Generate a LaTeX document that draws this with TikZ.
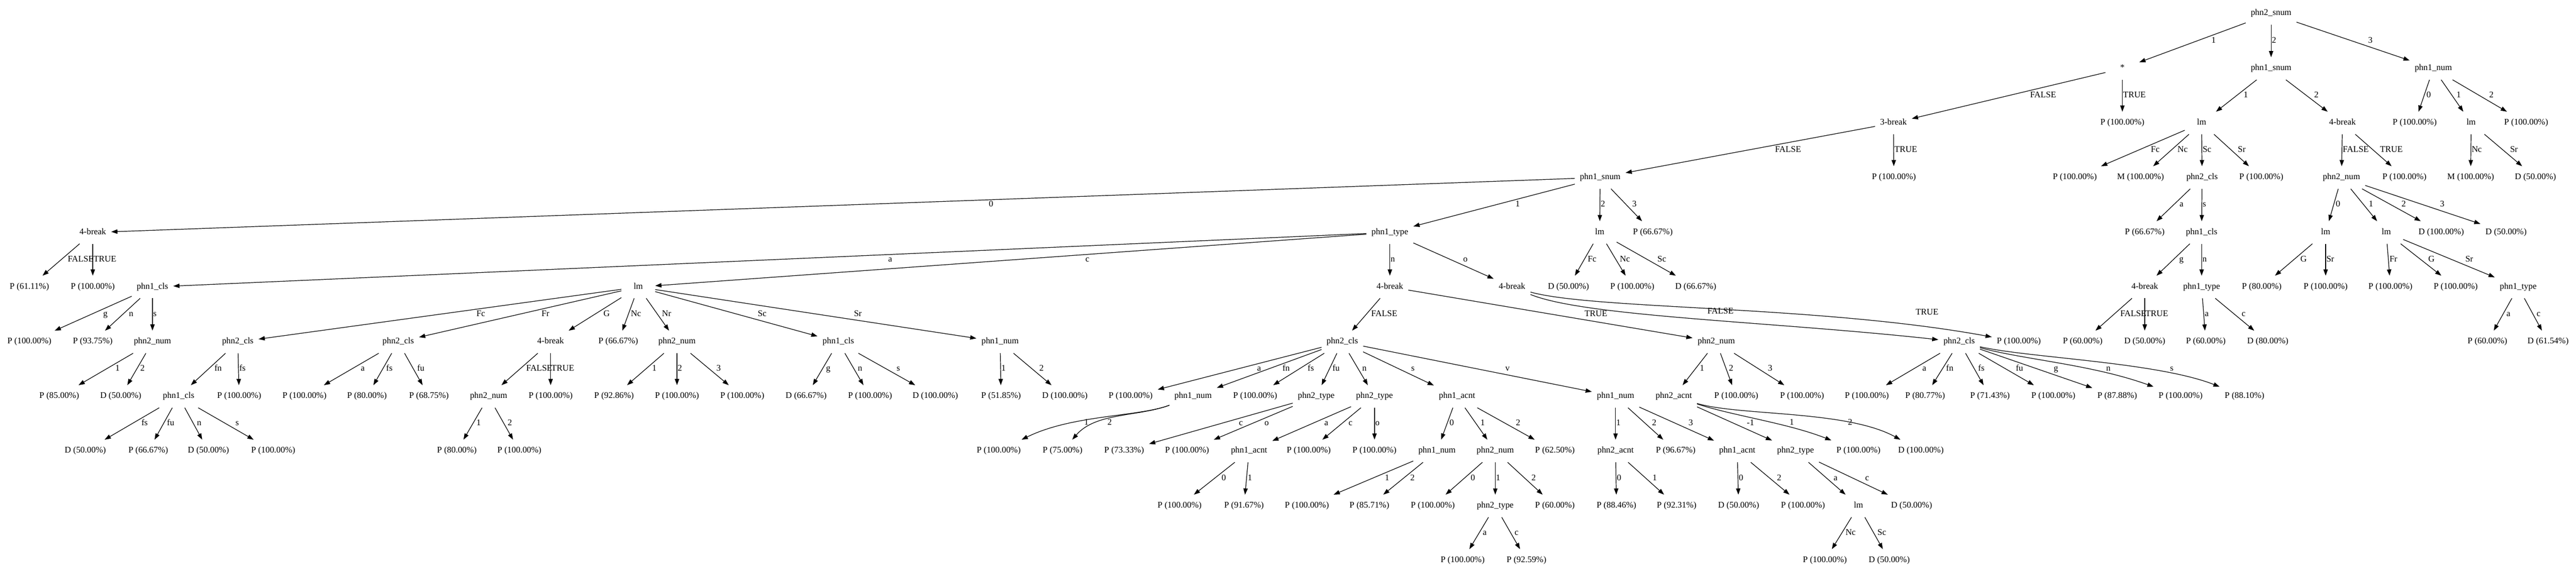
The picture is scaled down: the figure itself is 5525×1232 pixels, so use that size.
\documentclass[tikz,border=0pt]{standalone}
\usepackage{fontspec}
\setmainfont{Liberation Serif}
\usetikzlibrary{arrows.meta, calc}

% labelled edge: line from parent to child, label just right of the line
\newcommand{\treeedge}[3]{%
  \draw[link] (#1) -- (#2);
  \path let \p1=(#1), \p2=(#2), \n1={sign(\x2-\x1)} in
    node[elbl] (l#2) at ({\x1+(0.5+0.094*(\n1))*(\x2-\x1)}, {0.5*(\y1+\y2)}) {#3};
}

\begin{document}
\begin{tikzpicture}[x=0.75pt, y=-0.75pt,
        tnode/.style={inner xsep=8pt, inner ysep=0pt, minimum width=54pt, minimum height=36pt, text height=9pt, text depth=3pt, font=\fontsize{14}{17}\selectfont},
        elbl/.style={anchor=west, inner xsep=1pt, inner ysep=0pt, text height=9pt, text depth=3pt, font=\fontsize{14}{17}\selectfont},
        link/.style={-{Triangle[length=10pt, width=7pt]}, line width=1pt}
    ]
        \useasboundingbox (0,0) rectangle (5525,1232);

        % Rank 0 and 1
        \node[tnode] (r0n1) at (4871,29) {phn2\_snum};
        \node[tnode] (r1n1) at (4552,147) {*};
        \node[tnode] (r1n2) at (4871,147) {phn1\_snum};
        \node[tnode] (r1n3) at (5219,147) {phn1\_num};

        % Rank 2
        \node[tnode] (r2n1) at (4061,264) {3-break};
        \node[tnode] (r2n2) at (4552,264) {P (100.00\%)};
        \node[tnode] (r2n3) at (4722,264) {lm};
        \node[tnode] (r2n4) at (5024,264) {4-break};
        \node[tnode] (r2n5) at (5179,264) {P (100.00\%)};
        \node[tnode] (r2n6) at (5300,264) {lm};
        \node[tnode] (r2n7) at (5418,264) {P (100.00\%)};

        % Rank 3
        \node[tnode] (r3n1) at (3432,381) {phn1\_snum};
        \node[tnode] (r3n2) at (4062,381) {P (100.00\%)};
        \node[tnode] (r3n3) at (4450,381) {P (100.00\%)};
        \node[tnode] (r3n4) at (4591,381) {M (100.00\%)};
        \node[tnode] (r3n5) at (4723,381) {phn2\_cls};
        \node[tnode] (r3n6) at (4850,381) {P (100.00\%)};
        \node[tnode] (r3n7) at (5022,381) {phn2\_num};
        \node[tnode] (r3n8) at (5157,381) {P (100.00\%)};
        \node[tnode] (r3n9) at (5299,381) {M (100.00\%)};
        \node[tnode] (r3n10) at (5438,381) {D (50.00\%)};

        % Rank 4
        \node[tnode] (r4n1) at (199,499) {4-break};
        \node[tnode] (r4n2) at (2981,499) {phn1\_type};
        \node[tnode] (r4n3) at (3431,499) {lm};
        \node[tnode] (r4n4) at (3545,499) {P (66.67\%)};
        \node[tnode] (r4n5) at (4600,499) {P (66.67\%)};
        \node[tnode] (r4n6) at (4722,499) {phn1\_cls};
        \node[tnode] (r4n7) at (4988,499) {lm};
        \node[tnode] (r4n8) at (5118,499) {lm};
        \node[tnode] (r4n9) at (5236,499) {D (100.00\%)};
        \node[tnode] (r4n10) at (5375,499) {D (50.00\%)};

        % Rank 5
        \node[tnode] (r5n1) at (63,616) {P (61.11\%)};
        \node[tnode] (r5n2) at (199,616) {P (100.00\%)};
        \node[tnode] (r5n3) at (327,616) {phn1\_cls};
        \node[tnode] (r5n4) at (1369,616) {lm};
        \node[tnode] (r5n5) at (2981,616) {4-break};
        \node[tnode] (r5n6) at (3243,616) {4-break};
        \node[tnode] (r5n7) at (3364,616) {D (50.00\%)};
        \node[tnode] (r5n8) at (3501,616) {P (100.00\%)};
        \node[tnode] (r5n9) at (3637,616) {D (66.67\%)};
        \node[tnode] (r5n10) at (4600,616) {4-break};
        \node[tnode] (r5n11) at (4722,616) {phn1\_type};
        \node[tnode] (r5n12) at (4851,616) {P (80.00\%)};
        \node[tnode] (r5n13) at (4988,616) {P (100.00\%)};
        \node[tnode] (r5n14) at (5127,616) {P (100.00\%)};
        \node[tnode] (r5n15) at (5267,616) {P (100.00\%)};
        \node[tnode] (r5n16) at (5401,616) {phn1\_type};

        % Rank 6
        \node[tnode] (r6n1) at (63,734) {P (100.00\%)};
        \node[tnode] (r6n2) at (199,734) {P (93.75\%)};
        \node[tnode] (r6n3) at (327,734) {phn2\_num};
        \node[tnode] (r6n4) at (510,734) {phn2\_cls};
        \node[tnode] (r6n5) at (854,734) {phn2\_cls};
        \node[tnode] (r6n6) at (1181,734) {4-break};
        \node[tnode] (r6n7) at (1326,734) {P (66.67\%)};
        \node[tnode] (r6n8) at (1452,734) {phn2\_num};
        \node[tnode] (r6n9) at (1798,734) {phn1\_cls};
        \node[tnode] (r6n10) at (2145,734) {phn1\_num};
        \node[tnode] (r6n11) at (2879,734) {phn2\_cls};
        \node[tnode] (r6n12) at (3681,734) {phn2\_num};
        \node[tnode] (r6n13) at (4202,734) {phn2\_cls};
        \node[tnode] (r6n14) at (4330,734) {P (100.00\%)};
        \node[tnode] (r6n15) at (4467,734) {P (60.00\%)};
        \node[tnode] (r6n16) at (4600,734) {D (50.00\%)};
        \node[tnode] (r6n17) at (4731,734) {P (60.00\%)};
        \node[tnode] (r6n18) at (4864,734) {D (80.00\%)};
        \node[tnode] (r6n19) at (5335,734) {P (60.00\%)};
        \node[tnode] (r6n20) at (5465,734) {D (61.54\%)};

        % Rank 7
        \node[tnode] (r7n1) at (127,851) {P (85.00\%)};
        \node[tnode] (r7n2) at (259,851) {D (50.00\%)};
        \node[tnode] (r7n3) at (383,851) {phn1\_cls};
        \node[tnode] (r7n4) at (513,851) {P (100.00\%)};
        \node[tnode] (r7n5) at (653,851) {P (100.00\%)};
        \node[tnode] (r7n6) at (787,851) {P (80.00\%)};
        \node[tnode] (r7n7) at (920,851) {P (68.75\%)};
        \node[tnode] (r7n8) at (1048,851) {phn2\_num};
        \node[tnode] (r7n9) at (1181,851) {P (100.00\%)};
        \node[tnode] (r7n10) at (1317,851) {P (92.86\%)};
        \node[tnode] (r7n11) at (1452,851) {P (100.00\%)};
        \node[tnode] (r7n12) at (1592,851) {P (100.00\%)};
        \node[tnode] (r7n13) at (1729,851) {D (66.67\%)};
        \node[tnode] (r7n14) at (1866,851) {P (100.00\%)};
        \node[tnode] (r7n15) at (2006,851) {D (100.00\%)};
        \node[tnode] (r7n16) at (2147,851) {P (51.85\%)};
        \node[tnode] (r7n17) at (2284,851) {D (100.00\%)};
        \node[tnode] (r7n18) at (2425,851) {P (100.00\%)};
        \node[tnode] (r7n19) at (2559,851) {phn1\_num};
        \node[tnode] (r7n20) at (2692,851) {P (100.00\%)};
        \node[tnode] (r7n21) at (2823,851) {phn2\_type};
        \node[tnode] (r7n22) at (2948,851) {phn2\_type};
        \node[tnode] (r7n23) at (3125,851) {phn1\_acnt};
        \node[tnode] (r7n24) at (3465,851) {phn1\_num};
        \node[tnode] (r7n25) at (3590,851) {phn2\_acnt};
        \node[tnode] (r7n26) at (3724,851) {P (100.00\%)};
        \node[tnode] (r7n27) at (3865,851) {P (100.00\%)};
        \node[tnode] (r7n28) at (4004,851) {P (100.00\%)};
        \node[tnode] (r7n29) at (4129,851) {P (80.77\%)};
        \node[tnode] (r7n30) at (4268,851) {P (71.43\%)};
        \node[tnode] (r7n31) at (4404,851) {P (100.00\%)};
        \node[tnode] (r7n32) at (4541,851) {P (87.88\%)};
        \node[tnode] (r7n33) at (4677,851) {P (100.00\%)};
        \node[tnode] (r7n34) at (4814,851) {P (88.10\%)};

        % Rank 8
        \node[tnode] (r8n1) at (183,968) {D (50.00\%)};
        \node[tnode] (r8n2) at (318,968) {P (66.67\%)};
        \node[tnode] (r8n3) at (447,968) {D (50.00\%)};
        \node[tnode] (r8n4) at (586,968) {P (100.00\%)};
        \node[tnode] (r8n5) at (980,968) {P (80.00\%)};
        \node[tnode] (r8n6) at (1114,968) {P (100.00\%)};
        \node[tnode] (r8n7) at (2142,968) {P (100.00\%)};
        \node[tnode] (r8n8) at (2279,968) {P (75.00\%)};
        \node[tnode] (r8n9) at (2411,968) {P (73.33\%)};
        \node[tnode] (r8n10) at (2546,968) {P (100.00\%)};
        \node[tnode] (r8n11) at (2679,968) {phn1\_acnt};
        \node[tnode] (r8n12) at (2807,968) {P (100.00\%)};
        \node[tnode] (r8n13) at (2948,968) {P (100.00\%)};
        \node[tnode] (r8n14) at (3082,968) {phn1\_num};
        \node[tnode] (r8n15) at (3207,968) {phn2\_num};
        \node[tnode] (r8n16) at (3335,968) {P (62.50\%)};
        \node[tnode] (r8n17) at (3465,968) {phn2\_acnt};
        \node[tnode] (r8n18) at (3594,968) {P (96.67\%)};
        \node[tnode] (r8n19) at (3726,968) {phn1\_acnt};
        \node[tnode] (r8n20) at (3851,968) {phn2\_type};
        \node[tnode] (r8n21) at (3986,968) {P (100.00\%)};
        \node[tnode] (r8n22) at (4120,968) {D (100.00\%)};

        % Rank 9
        \node[tnode] (r9n1) at (2530,1086) {P (100.00\%)};
        \node[tnode] (r9n2) at (2668,1086) {P (91.67\%)};
        \node[tnode] (r9n3) at (2803,1086) {P (100.00\%)};
        \node[tnode] (r9n4) at (2937,1086) {P (85.71\%)};
        \node[tnode] (r9n5) at (3073,1086) {P (100.00\%)};
        \node[tnode] (r9n6) at (3207,1086) {phn2\_type};
        \node[tnode] (r9n7) at (3335,1086) {P (60.00\%)};
        \node[tnode] (r9n8) at (3467,1086) {P (88.46\%)};
        \node[tnode] (r9n9) at (3596,1086) {P (92.31\%)};
        \node[tnode] (r9n10) at (3729,1086) {D (50.00\%)};
        \node[tnode] (r9n11) at (3867,1086) {P (100.00\%)};
        \node[tnode] (r9n12) at (3986,1086) {lm};
        \node[tnode] (r9n13) at (4100,1086) {D (50.00\%)};

        % Rank 10
        \node[tnode] (r10n1) at (3137,1203) {P (100.00\%)};
        \node[tnode] (r10n2) at (3274,1203) {P (92.59\%)};
        \node[tnode] (r10n3) at (3914,1203) {P (100.00\%)};
        \node[tnode] (r10n4) at (4052,1203) {D (50.00\%)};

        % Straight edges
        \treeedge{r0n1}{r1n1}{1} \treeedge{r0n1}{r1n2}{2} \treeedge{r0n1}{r1n3}{3}
        \treeedge{r1n1}{r2n1}{FALSE} \treeedge{r1n1}{r2n2}{TRUE}
        \treeedge{r1n2}{r2n3}{1} \treeedge{r1n2}{r2n4}{2}
        \treeedge{r1n3}{r2n5}{0} \treeedge{r1n3}{r2n6}{1} \treeedge{r1n3}{r2n7}{2}
        \treeedge{r2n1}{r3n1}{FALSE} \treeedge{r2n1}{r3n2}{TRUE}
        \treeedge{r2n3}{r3n3}{Fc} \treeedge{r2n3}{r3n4}{Nc} \treeedge{r2n3}{r3n5}{Sc} \treeedge{r2n3}{r3n6}{Sr}
        \treeedge{r2n4}{r3n7}{FALSE} \treeedge{r2n4}{r3n8}{TRUE}
        \treeedge{r2n6}{r3n9}{Nc} \treeedge{r2n6}{r3n10}{Sr}
        \treeedge{r3n1}{r4n1}{0} \treeedge{r3n1}{r4n2}{1} \treeedge{r3n1}{r4n3}{2} \treeedge{r3n1}{r4n4}{3}
        \treeedge{r3n5}{r4n5}{a} \treeedge{r3n5}{r4n6}{s}
        \treeedge{r3n7}{r4n7}{0} \treeedge{r3n7}{r4n8}{1} \treeedge{r3n7}{r4n9}{2} \treeedge{r3n7}{r4n10}{3}
        \treeedge{r4n1}{r5n1}{FALSE} \treeedge{r4n1}{r5n2}{TRUE}
        \treeedge{r4n2}{r5n3}{a} \treeedge{r4n2}{r5n4}{c} \treeedge{r4n2}{r5n5}{n} \treeedge{r4n2}{r5n6}{o}
        \treeedge{r4n3}{r5n7}{Fc} \treeedge{r4n3}{r5n8}{Nc} \treeedge{r4n3}{r5n9}{Sc}
        \treeedge{r4n6}{r5n10}{g} \treeedge{r4n6}{r5n11}{n}
        \treeedge{r4n7}{r5n12}{G} \treeedge{r4n7}{r5n13}{Sr}
        \treeedge{r4n8}{r5n14}{Fr} \treeedge{r4n8}{r5n15}{G} \treeedge{r4n8}{r5n16}{Sr}
        \treeedge{r5n3}{r6n1}{g} \treeedge{r5n3}{r6n2}{n} \treeedge{r5n3}{r6n3}{s}
        \treeedge{r5n4}{r6n4}{Fc} \treeedge{r5n4}{r6n5}{Fr} \treeedge{r5n4}{r6n6}{G} \treeedge{r5n4}{r6n7}{Nc}
        \treeedge{r5n4}{r6n8}{Nr} \treeedge{r5n4}{r6n9}{Sc} \treeedge{r5n4}{r6n10}{Sr}
        \treeedge{r5n5}{r6n11}{FALSE} \treeedge{r5n5}{r6n12}{TRUE}
        \treeedge{r5n10}{r6n15}{FALSE} \treeedge{r5n10}{r6n16}{TRUE}
        \treeedge{r5n11}{r6n17}{a} \treeedge{r5n11}{r6n18}{c}
        \treeedge{r5n16}{r6n19}{a} \treeedge{r5n16}{r6n20}{c}
        \treeedge{r6n3}{r7n1}{1} \treeedge{r6n3}{r7n2}{2}
        \treeedge{r6n4}{r7n3}{fn} \treeedge{r6n4}{r7n4}{fs}
        \treeedge{r6n5}{r7n5}{a} \treeedge{r6n5}{r7n6}{fs} \treeedge{r6n5}{r7n7}{fu}
        \treeedge{r6n6}{r7n8}{FALSE} \treeedge{r6n6}{r7n9}{TRUE}
        \treeedge{r6n8}{r7n10}{1} \treeedge{r6n8}{r7n11}{2} \treeedge{r6n8}{r7n12}{3}
        \treeedge{r6n9}{r7n13}{g} \treeedge{r6n9}{r7n14}{n} \treeedge{r6n9}{r7n15}{s}
        \treeedge{r6n10}{r7n16}{1} \treeedge{r6n10}{r7n17}{2}
        \treeedge{r6n11}{r7n18}{a} \treeedge{r6n11}{r7n19}{fn} \treeedge{r6n11}{r7n20}{fs} \treeedge{r6n11}{r7n21}{fu}
        \treeedge{r6n11}{r7n22}{n} \treeedge{r6n11}{r7n23}{s} \treeedge{r6n11}{r7n24}{v}
        \treeedge{r6n12}{r7n25}{1} \treeedge{r6n12}{r7n26}{2} \treeedge{r6n12}{r7n27}{3}
        \treeedge{r6n13}{r7n28}{a} \treeedge{r6n13}{r7n29}{fn} \treeedge{r6n13}{r7n30}{fs} \treeedge{r6n13}{r7n31}{fu} \treeedge{r6n13}{r7n32}{g}
        \treeedge{r7n3}{r8n1}{fs} \treeedge{r7n3}{r8n2}{fu} \treeedge{r7n3}{r8n3}{n} \treeedge{r7n3}{r8n4}{s}
        \treeedge{r7n8}{r8n5}{1} \treeedge{r7n8}{r8n6}{2}
        \treeedge{r7n21}{r8n9}{c} \treeedge{r7n21}{r8n10}{o}
        \treeedge{r7n22}{r8n11}{a} \treeedge{r7n22}{r8n12}{c} \treeedge{r7n22}{r8n13}{o}
        \treeedge{r7n23}{r8n14}{0} \treeedge{r7n23}{r8n15}{1} \treeedge{r7n23}{r8n16}{2}
        \treeedge{r7n24}{r8n17}{1} \treeedge{r7n24}{r8n18}{2} \treeedge{r7n24}{r8n19}{3}
        \treeedge{r7n25}{r8n20}{-1}
        \treeedge{r8n11}{r9n1}{0} \treeedge{r8n11}{r9n2}{1}
        \treeedge{r8n14}{r9n3}{1} \treeedge{r8n14}{r9n4}{2}
        \treeedge{r8n15}{r9n5}{0} \treeedge{r8n15}{r9n6}{1} \treeedge{r8n15}{r9n7}{2}
        \treeedge{r8n17}{r9n8}{0} \treeedge{r8n17}{r9n9}{1}
        \treeedge{r8n19}{r9n10}{0} \treeedge{r8n19}{r9n11}{2}
        \treeedge{r8n20}{r9n12}{a} \treeedge{r8n20}{r9n13}{c}
        \treeedge{r9n6}{r10n1}{a} \treeedge{r9n6}{r10n2}{c}
        \treeedge{r9n12}{r10n3}{Nc} \treeedge{r9n12}{r10n4}{Sc}

        % Curved edges
        \draw[link] (r5n6) .. controls (3400,680) and (3800,690) .. (r6n13);
        \draw[link] (r5n6) .. controls (3420,665) and (3900,655) .. (r6n14);
        \node[elbl, anchor=center] (lr6n13) at (3690,670) {FALSE};
        \node[elbl, anchor=center] (lr6n14) at (4133,672) {TRUE};

        \draw[link] (r6n13) .. controls (4340,772) and (4485,782) .. (r7n33);
        \draw[link] (r6n13) .. controls (4350,768) and (4625,777) .. (r7n34);
        \node[elbl, anchor=center] (lr7n33) at (4522,792) {n};
        \node[elbl, anchor=center] (lr7n34) at (4658,792) {s};

        \draw[link] (r7n19) .. controls (2440,895) and (2300,890) .. (r8n7);
        \draw[link] (r7n19) .. controls (2440,895) and (2350,885) .. (r8n8);
        \node[elbl, anchor=center] (lr8n7) at (2330,908) {1};
        \node[elbl, anchor=center] (lr8n8) at (2380,908) {2};

        \draw[link] (r7n25) .. controls (3720,893) and (3833,908) .. (r8n21);
        \draw[link] (r7n25) .. controls (3730,893) and (3960,880) .. (r8n22);
        \node[elbl, anchor=center] (lr8n21) at (3843,908) {1};
        \node[elbl, anchor=center] (lr8n22) at (3968,908) {2};

    \end{tikzpicture}
\end{document}
